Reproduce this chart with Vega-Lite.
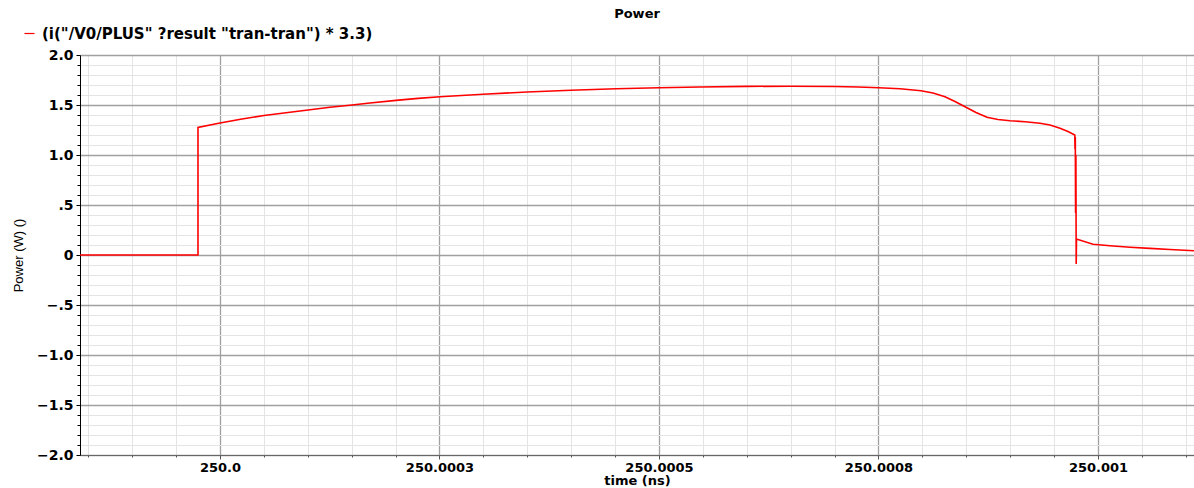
{
  "$schema": "https://vega.github.io/schema/vega-lite/v6.json",
  "width": 1114,
  "height": 400,
  "autosize": {"type": "none"},
  "padding": {"left": 80, "top": 55, "right": 0, "bottom": 33},
  "background": "white",
  "config": {"view": {"stroke": null}},
  "title": {"text": "Power", "anchor": "middle", "frame": "group", "font": "DejaVu Sans", "fontSize": 13, "fontWeight": "bold", "color": "#000000", "offset": -5, "baseline": "alphabetic"},
  "data": {"values": [
    {"time": 249.99984055, "power": 0},
    {"time": 249.99997494, "power": 0},
    {"time": 249.99997494, "power": 1.275},
    {"time": 250.0, "power": 1.32},
    {"time": 250.00002506, "power": 1.36},
    {"time": 250.00005011, "power": 1.395},
    {"time": 250.00007517, "power": 1.423},
    {"time": 250.00010023, "power": 1.45},
    {"time": 250.00012528, "power": 1.477},
    {"time": 250.00015034, "power": 1.5},
    {"time": 250.00017084, "power": 1.52},
    {"time": 250.00020046, "power": 1.546},
    {"time": 250.00022551, "power": 1.566},
    {"time": 250.00025057, "power": 1.583},
    {"time": 250.00029954, "power": 1.608},
    {"time": 250.00034966, "power": 1.63},
    {"time": 250.00039977, "power": 1.648},
    {"time": 250.00045103, "power": 1.662},
    {"time": 250.0005, "power": 1.673},
    {"time": 250.0005467, "power": 1.68},
    {"time": 250.00060023, "power": 1.686},
    {"time": 250.0006492, "power": 1.688},
    {"time": 250.00070046, "power": 1.685},
    {"time": 250.00072665, "power": 1.68},
    {"time": 250.00075057, "power": 1.673},
    {"time": 250.00077449, "power": 1.662},
    {"time": 250.00079841, "power": 1.643},
    {"time": 250.00081207, "power": 1.62},
    {"time": 250.00082574, "power": 1.583},
    {"time": 250.00083713, "power": 1.535},
    {"time": 250.00084852, "power": 1.483},
    {"time": 250.00086105, "power": 1.425},
    {"time": 250.00087358, "power": 1.377},
    {"time": 250.0008861, "power": 1.355},
    {"time": 250.00089977, "power": 1.343},
    {"time": 250.00091686, "power": 1.333},
    {"time": 250.00093394, "power": 1.317},
    {"time": 250.00094533, "power": 1.3},
    {"time": 250.00095672, "power": 1.267},
    {"time": 250.00096583, "power": 1.235},
    {"time": 250.00097357, "power": 1.2},
    {"time": 250.0009738, "power": 1.06},
    {"time": 250.00097414, "power": 1.18},
    {"time": 250.00097448, "power": 0.42},
    {"time": 250.00097483, "power": 1.0},
    {"time": 250.00097517, "power": -0.09},
    {"time": 250.00097551, "power": 0.16},
    {"time": 250.00099431, "power": 0.107},
    {"time": 250.00101367, "power": 0.093},
    {"time": 250.00103645, "power": 0.078},
    {"time": 250.00105922, "power": 0.066},
    {"time": 250.001082, "power": 0.055},
    {"time": 250.00110934, "power": 0.042}
  ]},
  "mark": {"type": "line", "strokeWidth": 1.6, "clip": true},
  "encoding": {
    "x": {
      "field": "time",
      "type": "quantitative",
      "scale": {"domain": [249.99984055, 250.00110934], "nice": false, "zero": false},
      "axis": {
        "values": [249.99985, 249.9999, 249.99995, 250, 250.00005, 250.0001, 250.00015, 250.0002, 250.00025, 250.0003, 250.00035, 250.0004, 250.00045, 250.0005, 250.00055, 250.0006, 250.00065, 250.0007, 250.00075, 250.0008, 250.00085, 250.0009, 250.00095, 250.001, 250.00105, 250.0011],
        "labelExpr": "abs(datum.value*4000 - round(datum.value*4000)) < 0.001 ? (abs(datum.value-250) < 0.0000001 ? '250.0' : abs(datum.value-250.00025) < 0.0000001 ? '250.0003' : abs(datum.value-250.0005) < 0.0000001 ? '250.0005' : abs(datum.value-250.00075) < 0.0000001 ? '250.0008' : '250.001') : ''",
        "labelOverlap": false,
        "labelFlush": false,
        "labelFont": "DejaVu Sans",
        "labelFontSize": 13,
        "labelFontWeight": "bold",
        "labelColor": "#000000",
        "labelPadding": 2,
        "grid": true,
        "gridColor": {"condition": {"test": "abs(datum.value*4000 - round(datum.value*4000)) < 0.001", "value": "#a0a0a0"}, "value": "#e4e4e4"},
        "gridWidth": {"condition": {"test": "abs(datum.value*4000 - round(datum.value*4000)) < 0.001", "value": 1.3}, "value": 1},
        "tickSize": {"condition": {"test": "abs(datum.value*4000 - round(datum.value*4000)) < 0.001", "value": 4}, "value": 2},
        "tickColor": "#555555",
        "domainColor": "#666666",
        "title": "time (ns)",
        "titleFont": "DejaVu Sans",
        "titleFontSize": 13,
        "titleFontWeight": "bold",
        "titleColor": "#000000",
        "titleY": 29,
        "titleBaseline": "alphabetic"
      }
    },
    "y": {
      "field": "power",
      "type": "quantitative",
      "scale": {"domain": [-2, 2], "nice": false, "zero": false},
      "axis": {
        "values": [-2, -1.9, -1.8, -1.7, -1.6, -1.5, -1.4, -1.3, -1.2, -1.1, -1, -0.9, -0.8, -0.7, -0.6, -0.5, -0.4, -0.3, -0.2, -0.1, 0, 0.1, 0.2, 0.3, 0.4, 0.5, 0.6, 0.7, 0.8, 0.9, 1, 1.1, 1.2, 1.3, 1.4, 1.5, 1.6, 1.7, 1.8, 1.9, 2],
        "labelExpr": "abs(datum.value*2 - round(datum.value*2)) < 0.001 ? (abs(datum.value) < 0.001 ? '0' : abs(abs(datum.value)-0.5) < 0.001 ? (datum.value < 0 ? '−.5' : '.5') : (datum.value < 0 ? '−' : '') + format(abs(datum.value), '.1f')) : ''",
        "labelOverlap": false,
        "labelFlush": false,
        "labelFont": "DejaVu Sans",
        "labelFontSize": 14,
        "labelFontWeight": "bold",
        "labelColor": "#000000",
        "labelPadding": 3,
        "grid": true,
        "gridColor": {"condition": {"test": "abs(datum.value*2 - round(datum.value*2)) < 0.001", "value": "#a0a0a0"}, "value": "#e4e4e4"},
        "gridWidth": {"condition": {"test": "abs(datum.value*2 - round(datum.value*2)) < 0.001", "value": 1.3}, "value": 1},
        "tickSize": {"condition": {"test": "abs(datum.value*2 - round(datum.value*2)) < 0.001", "value": 4}, "value": 3},
        "tickColor": "#000000",
        "domainColor": "#000000",
        "title": "Power (W) ()",
        "titleFont": "Liberation Sans",
        "titleFontSize": 13,
        "titleFontWeight": "normal",
        "titleColor": "#000000",
        "titleAngle": 270,
        "titleX": -62,
        "titleY": 200,
        "titleAlign": "center",
        "titleBaseline": "middle"
      }
    },
    "color": {
      "datum": "(i(\"/V0/PLUS\" ?result \"tran-tran\") * 3.3)",
      "type": "nominal",
      "scale": {"range": ["#ff0000"]},
      "legend": {
        "orient": "none",
        "legendX": -58,
        "legendY": -29,
        "title": null,
        "padding": 0,
        "symbolType": "stroke",
        "symbolSize": 100,
        "symbolStrokeWidth": 1.2,
        "labelFont": "DejaVu Sans",
        "labelFontSize": 15,
        "labelFontWeight": "bold",
        "labelColor": "#000000",
        "labelLimit": 0,
        "labelOffset": 5
      }
    },
    "order": {"value": null}
  }
}
